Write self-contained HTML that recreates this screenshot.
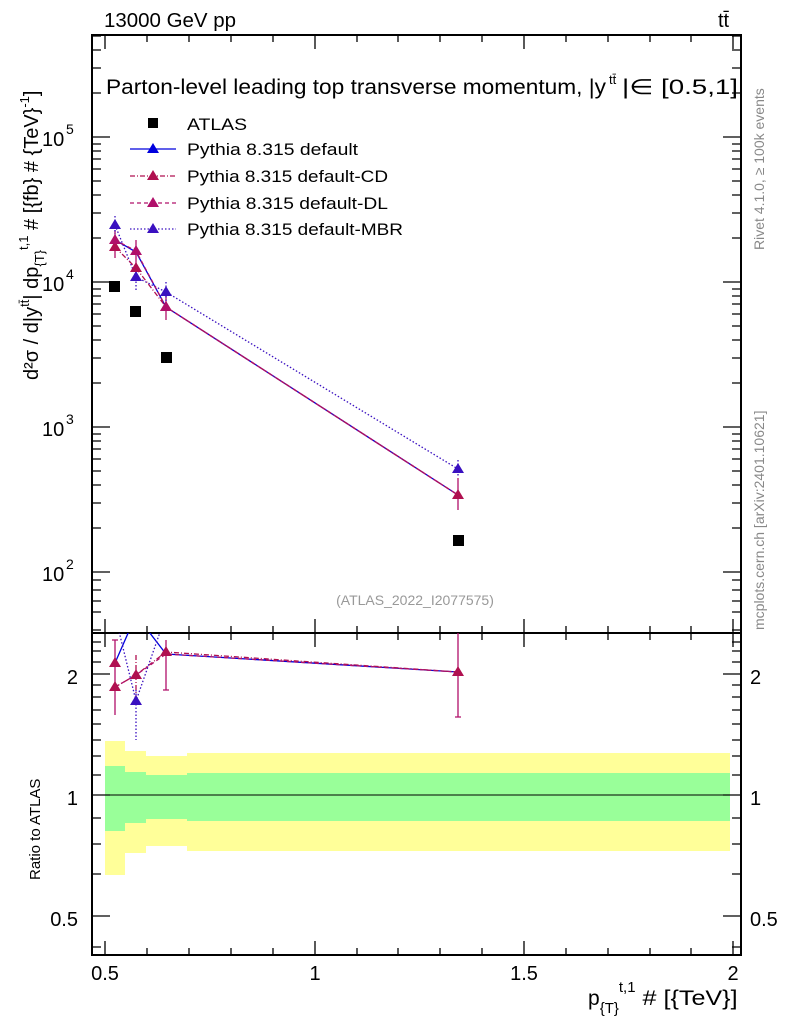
<!DOCTYPE html>
<html><head><meta charset="utf-8"><style>
body{margin:0;background:#fff}
text{font-family:"Liberation Sans",sans-serif}
</style></head><body>
<svg width="786" height="1024" xmlns="http://www.w3.org/2000/svg">
<rect width="786" height="1024" fill="#fff"/>
<g>
<rect x="105" y="741" width="20" height="134" fill="#ffff99"/>
<rect x="125" y="751" width="21" height="102" fill="#ffff99"/>
<rect x="146" y="756" width="41" height="90" fill="#ffff99"/>
<rect x="187" y="753" width="543" height="98" fill="#ffff99"/>
<rect x="105" y="766" width="20" height="65" fill="#99ff99"/>
<rect x="125" y="772" width="21" height="51" fill="#99ff99"/>
<rect x="146" y="775" width="41" height="44" fill="#99ff99"/>
<rect x="187" y="773" width="543" height="48" fill="#99ff99"/>
<line x1="92" y1="795" x2="741" y2="795" stroke="#000" stroke-width="1"/>
</g>
<rect x="92" y="35" width="649" height="598" fill="none" stroke="#000" stroke-width="2"/>
<rect x="92" y="633" width="649" height="322" fill="none" stroke="#000" stroke-width="2"/>
<g stroke="#000" stroke-width="1.3">
<path d="M105 955v-14M315 955v-14M524 955v-14M733 955v-14M105 633v-14M315 633v-14M524 633v-14M733 633v-14M105 633v14M315 633v14M524 633v14M733 633v14M105 35v14M315 35v14M524 35v14M733 35v14"/>
<path d="M147 955v-7M189 955v-7M231 955v-7M273 955v-7M357 955v-7M398 955v-7M440 955v-7M482 955v-7M566 955v-7M608 955v-7M650 955v-7M691 955v-7M147 633v-7M189 633v-7M231 633v-7M273 633v-7M357 633v-7M398 633v-7M440 633v-7M482 633v-7M566 633v-7M608 633v-7M650 633v-7M691 633v-7M147 633v7M189 633v7M231 633v7M273 633v7M357 633v7M398 633v7M440 633v7M482 633v7M566 633v7M608 633v7M650 633v7M691 633v7M147 35v7M189 35v7M231 35v7M273 35v7M357 35v7M398 35v7M440 35v7M482 35v7M566 35v7M608 35v7M650 35v7M691 35v7"/>
<path d="M92 137h18M92 282h18M92 427h18M92 572h18M741 137h-18M741 282h-18M741 427h-18M741 572h-18"/>
<path d="M92 630h9M92 612h9M92 601h9M92 590h9M92 580h9M92 528h9M92 503h9M92 485h9M92 471h9M92 459h9M92 449h9M92 441h9M92 434h9M92 383h9M92 358h9M92 340h9M92 326h9M92 314h9M92 304h9M92 296h9M92 289h9M92 238h9M92 213h9M92 195h9M92 181h9M92 169h9M92 159h9M92 151h9M92 144h9M92 93h9M92 68h9M92 50h9M92 36h9"/>
<path d="M741 630h-9M741 612h-9M741 601h-9M741 590h-9M741 580h-9M741 528h-9M741 503h-9M741 485h-9M741 471h-9M741 459h-9M741 449h-9M741 441h-9M741 434h-9M741 383h-9M741 358h-9M741 340h-9M741 326h-9M741 314h-9M741 304h-9M741 296h-9M741 289h-9M741 238h-9M741 213h-9M741 195h-9M741 181h-9M741 169h-9M741 159h-9M741 151h-9M741 144h-9M741 93h-9M741 68h-9M741 50h-9M741 36h-9"/>
<path d="M92 674h18M92 795h18M92 916h18M741 674h-18M741 795h-18M741 916h-18"/>
<path d="M92 642h9M92 651h9M92 662h9M92 685h9M92 697h9M92 710h9M92 724h9M92 740h9M92 756h9M92 775h9M92 818h9M92 844h9M92 874h9M92 947h9M741 642h-9M741 651h-9M741 662h-9M741 685h-9M741 697h-9M741 710h-9M741 724h-9M741 740h-9M741 756h-9M741 775h-9M741 818h-9M741 844h-9M741 874h-9M741 947h-9"/>
</g>
<g font-size="20">
<text x="105" y="980" text-anchor="middle">0.5</text>
<text x="315" y="980" text-anchor="middle">1</text>
<text x="524" y="980" text-anchor="middle">1.5</text>
<text x="733" y="980" text-anchor="middle">2</text>
<text x="78" y="684" text-anchor="end">2</text>
<text x="78" y="805" text-anchor="end">1</text>
<text x="78" y="926" text-anchor="end">0.5</text>
<text x="750" y="684">2</text>
<text x="750" y="805">1</text>
<text x="750" y="926">0.5</text>
<text x="42" y="146">10</text><text x="66" y="134" font-size="14">5</text>
<text x="42" y="291">10</text><text x="66" y="279" font-size="14">4</text>
<text x="42" y="436">10</text><text x="66" y="424" font-size="14">3</text>
<text x="42" y="581">10</text><text x="66" y="569" font-size="14">2</text>
<text x="104" y="27" textLength="132" lengthAdjust="spacingAndGlyphs">13000 GeV pp</text>
<text x="718" y="27">tt̄</text>
<text x="106" y="94" font-size="21" textLength="500" lengthAdjust="spacingAndGlyphs">Parton-level leading top transverse momentum, |y</text>
<text x="609" y="84" font-size="13">tt̄</text>
<text x="622" y="94" font-size="21" textLength="116" lengthAdjust="spacingAndGlyphs">|∈ [0.5,1]</text>
<text x="588" y="1005" font-size="21">p<tspan font-size="15" dy="8">{T}</tspan><tspan font-size="15" dy="-21">t,1</tspan><tspan dy="13" textLength="102" lengthAdjust="spacingAndGlyphs"> # [{TeV}]</tspan></text>
</g>
<text transform="translate(40,880) rotate(-90)" font-size="15">Ratio to ATLAS</text>
<text transform="translate(38,380) rotate(-90)" font-size="20">d²σ / d|y<tspan font-size="13" dy="-9">tt̄</tspan><tspan dy="9">| dp</tspan><tspan font-size="13" dy="6">{T}</tspan><tspan font-size="13" dy="-16">t,1</tspan><tspan dy="10"> # [{fb} # {TeV}</tspan><tspan font-size="13" dy="-9">-1</tspan><tspan dy="9">]</tspan></text>
<text transform="translate(764,250) rotate(-90)" font-size="14" fill="#888">Rivet 4.1.0, ≥ 100k events</text>
<text transform="translate(764,630) rotate(-90)" font-size="14" fill="#888">mcplots.cern.ch [arXiv:2401.10621]</text>
<text x="415" y="605" font-size="14" fill="#999" text-anchor="middle">(ATLAS_2022_I2077575)</text>
<g font-size="17">
<rect x="148" y="118" width="10" height="10" fill="#000"/><text x="187" y="130" textLength="60" lengthAdjust="spacingAndGlyphs">ATLAS</text>
<line x1="130" y1="149" x2="176" y2="149" stroke="#0000dd" stroke-width="1.3"/><path d="M153 143l6 10h-12z" fill="#0000dd"/><text x="187" y="155" textLength="171" lengthAdjust="spacingAndGlyphs">Pythia 8.315 default</text>
<line x1="130" y1="176" x2="176" y2="176" stroke="#b01050" stroke-width="1.3" stroke-dasharray="5 2 1 2"/><path d="M153 170l6 10h-12z" fill="#b01050"/><text x="187" y="182" textLength="201" lengthAdjust="spacingAndGlyphs">Pythia 8.315 default-CD</text>
<line x1="130" y1="203" x2="176" y2="203" stroke="#b0106a" stroke-width="1.3" stroke-dasharray="4 3"/><path d="M153 197l6 10h-12z" fill="#b0106a"/><text x="187" y="209" textLength="201" lengthAdjust="spacingAndGlyphs">Pythia 8.315 default-DL</text>
<line x1="130" y1="229" x2="176" y2="229" stroke="#3a10c0" stroke-width="1.3" stroke-dasharray="1.5 2"/><path d="M153 223l6 10h-12z" fill="#3a10c0"/><text x="187" y="235" textLength="216" lengthAdjust="spacingAndGlyphs">Pythia 8.315 default-MBR</text>
</g>
<g fill="#000"><rect x="109" y="281" width="11" height="11"/><rect x="130" y="306" width="11" height="11"/><rect x="161" y="352" width="11" height="11"/><rect x="453" y="535" width="11" height="11"/></g>
<polyline points="115,225 136,277 166,292 458,469" fill="none" stroke="#3a10c0" stroke-width="1.3" stroke-dasharray="1.5 2"/>
<polyline points="115,240 136,252 166,307 458,495" fill="none" stroke="#0000dd" stroke-width="1.3"/>
<polyline points="115,247 136,268 166,307 458,495" fill="none" stroke="#b01050" stroke-width="1.3" stroke-dasharray="5 2 1 2"/>
<polyline points="115,240 136,251 166,307 458,495" fill="none" stroke="#b0106a" stroke-width="1.3" stroke-dasharray="4 3"/>
<g stroke="#b0106a" stroke-width="1.3"><path d="M115 230v28M136 240v24M166 296v24M458 478v32M136 258v22"/></g>
<g stroke="#3a10c0" stroke-width="1.3" stroke-dasharray="1.5 2"><path d="M115 216v18M136 264v26M166 282v20M458 460v16"/></g>
<g fill="#3a10c0"><path d="M115 219l6 10h-12zM136 271l6 10h-12zM166 286l6 10h-12zM458 463l6 10h-12z"/></g>
<g fill="#b01050"><path d="M115 241l6 10h-12zM136 262l6 10h-12zM166 301l6 10h-12zM458 489l6 10h-12z"/></g>
<g fill="#b0106a"><path d="M115 234l6 10h-12zM136 245l6 10h-12zM166 301l6 10h-12z"/></g>
<svg x="92" y="633" width="649" height="322" overflow="hidden">
<g transform="translate(-92,-633)">
<polyline points="115,663 136,615 166,654 458,672" fill="none" stroke="#0000dd" stroke-width="1.3"/>
<polyline points="115,687 136,675 166,652 458,672" fill="none" stroke="#b01050" stroke-width="1.3" stroke-dasharray="5 2 1 2"/>
<polyline points="115,687 136,675 166,654 458,672" fill="none" stroke="#b0106a" stroke-width="1.3" stroke-dasharray="4 3"/>
<polyline points="115,615 136,701 166,615" fill="none" stroke="#3a10c0" stroke-width="1.3" stroke-dasharray="1.5 2"/>
<g stroke="#b0106a" stroke-width="1.3"><path d="M115 640v75M166 640v50M458 633v84M112 640h6M163 690h6M455 717h6"/></g>
<g stroke="#b01050" stroke-width="1.3" stroke-dasharray="5 2 1 2"><path d="M136 655v50"/></g>
<g stroke="#3a10c0" stroke-width="1.3" stroke-dasharray="1.5 2"><path d="M136 690v50"/></g>
<g fill="#3a10c0"><path d="M136 695l6 10h-12z"/></g>
<g fill="#b01050"><path d="M115 657l6 10h-12zM115 681l6 10h-12zM136 669l6 10h-12zM166 646l6 10h-12zM458 666l6 10h-12z"/></g>
</g></svg>
</svg>
</body></html>
